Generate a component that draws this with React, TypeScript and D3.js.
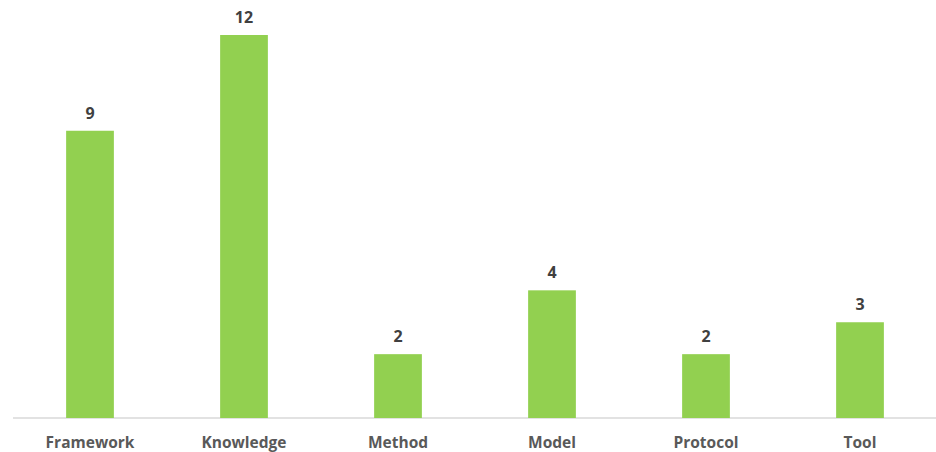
import React from "react";
import * as d3 from "d3";

const categories = ["Framework", "Knowledge", "Method", "Model", "Protocol", "Tool"];
const counts = [9, 12, 2, 4, 2, 3];

const WIDTH = 936;
const HEIGHT = 452;
const BAR_COLOR = "#92d050";
const FONT = "'Open Sans', 'DejaVu Sans', sans-serif";

export default function App() {
  const x = d3.scaleBand<string>().domain(categories).range([13, 937]).paddingInner(0.69).paddingOuter(0.345);
  const y = d3.scaleLinear().domain([0, 12]).range([418, 35]);
  const baseline = y(0);

  return (
    <svg
      width={WIDTH}
      height={HEIGHT}
      style={{ position: "absolute", left: 0, top: 0, background: "#ffffff" }}
    >
      <line x1={13} x2={WIDTH} y1={baseline} y2={baseline} stroke="#d9d9d9" strokeWidth={1.5} />
      {categories.map((c, i) => {
        const bx = x(c)!;
        const bw = x.bandwidth();
        const top = y(counts[i]);
        return (
          <g key={c}>
            <rect x={bx} y={top} width={bw} height={baseline - top} fill={BAR_COLOR} />
            <text
              x={bx + bw / 2}
              y={top - 12}
              textAnchor="middle"
              fontFamily={FONT}
              fontWeight={700}
              fontSize={16}
              fill="#404040"
            >
              {counts[i]}
            </text>
            <text
              x={bx + bw / 2}
              y={447.5}
              textAnchor="middle"
              fontFamily={FONT}
              fontWeight={700}
              fontSize={15.5}
              fill="#595959"
            >
              {c}
            </text>
          </g>
        );
      })}
    </svg>
  );
}
